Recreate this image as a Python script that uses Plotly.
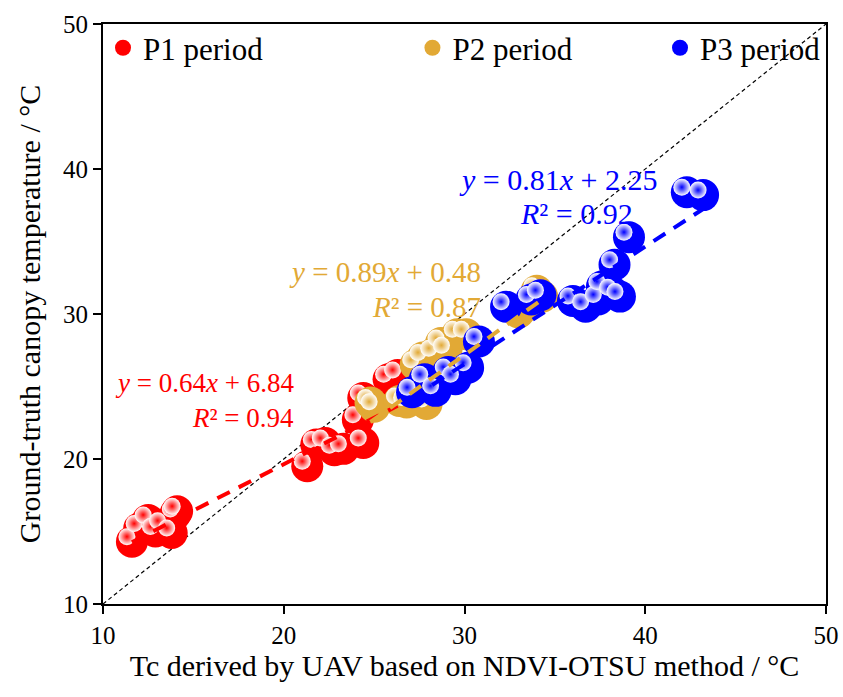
import plotly.graph_objects as go

# ---------------- data ----------------
p1_x = [11.6, 12.0, 12.5, 12.9, 13.3, 13.8, 14.0, 14.1,
        21.3, 21.8, 22.3, 22.8, 23.3, 24.4, 24.1, 24.4, 25.8, 26.3]
p1_y = [14.3, 15.2, 15.8, 15.0, 15.4, 14.9, 16.2, 16.4,
        19.5, 21.0, 21.1, 20.6, 20.7, 21.1, 22.7, 24.2, 25.5, 25.8]

p2_x = [24.8, 25.0, 26.4, 26.8, 27.3, 27.9, 28.1, 27.3, 27.7, 28.3,
        28.7, 29.0, 29.6, 30.1, 33.0, 33.5, 34.0, 34.3]
p2_y = [23.9, 23.6, 24.0, 23.9, 24.4, 23.8, 24.6, 26.5, 27.0, 27.3,
        28.0, 27.5, 28.6, 28.6, 30.1, 30.6, 31.6, 31.2]

p3_x = [27.1, 27.8, 28.4, 29.1, 29.5, 30.2, 30.8, 32.3, 33.7, 34.2,
        36.0, 36.7, 37.4, 37.6, 38.2, 38.6, 38.3, 39.1, 42.3, 43.2]
p3_y = [24.6, 25.5, 24.7, 26.0, 25.5, 26.3, 28.1, 30.5, 31.0, 31.3,
        30.9, 30.5, 31.0, 31.9, 31.5, 31.2, 33.4, 35.3, 38.4, 38.2]

fits = {  # slope, intercept, R2
    "P1": (0.64, 6.84, 0.94),
    "P2": (0.89, 0.48, 0.87),
    "P3": (0.81, 2.25, 0.92),
}
names = ["P1 period", "P2 period", "P3 period"]
colors = ["#FF0000", "#E2A935", "#0000FF"]

axis_range = [10, 50]
tick_vals = [10, 20, 30, 40, 50]

FONT = "Liberation Serif"

fig = go.Figure()

# 1:1 line
fig.add_trace(go.Scatter(x=axis_range, y=axis_range, mode="lines",
                         line=dict(color="black", width=1.2, dash="4px,3px"),
                         showlegend=False, hoverinfo="skip"))

# pixel-based offset for sphere highlight (converted to data units)
px_per_x = 723 / 40.0
px_per_y = 580 / 40.0
hx = -5 / px_per_x
hy = 5 / px_per_y

legend_ids = ["legend", "legend2", "legend3"]
groups = [(p1_x, p1_y, "P1"), (p2_x, p2_y, "P2"), (p3_x, p3_y, "P3")]
for (xs, ys, key), name, col, lg in zip(groups, names, colors, legend_ids):
    fig.add_trace(go.Scatter(x=xs, y=ys, mode="markers", name=name, legend=lg,
                             marker=dict(size=32, color=col, line=dict(width=0)),
                             hoverinfo="skip"))
    fig.add_trace(go.Scatter(x=[v + hx for v in xs], y=[v + hy for v in ys],
                             mode="markers", showlegend=False,
                             marker=dict(size=17, color="white",
                                         gradient=dict(type="radial", color=col),
                                         line=dict(width=0)),
                             hoverinfo="skip"))

# fit lines
for (xs, ys, key), col in zip(groups, colors):
    a, b, r2 = fits[key]
    xl = [min(xs), max(xs)]
    fig.add_trace(go.Scatter(x=xl, y=[a * v + b for v in xl], mode="lines",
                             line=dict(color=col, width=4, dash="14px,10px"),
                             showlegend=False, hoverinfo="skip"))

# equation annotations: (x1, y1, x2, y2, font size)
ann_pos = {
    "P1": (20.7, 25.25, 20.7, 22.85, 27),
    "P2": (31.05, 32.9, 31.05, 30.45, 29),
    "P3": (40.8, 39.25, 39.45, 36.95, 30),
}
for key, col in zip(["P1", "P2", "P3"], colors):
    a, b, r2 = fits[key]
    x1, y1, x2, y2, fs = ann_pos[key]
    fig.add_annotation(x=x1, y=y1, xref="x", yref="y", showarrow=False,
                       xanchor="right", yanchor="middle",
                       text=f"<i>y</i> = {a:.2f}<i>x</i> + {b:.2f}",
                       font=dict(family=FONT, size=fs, color=col))
    fig.add_annotation(x=x2, y=y2, xref="x", yref="y", showarrow=False,
                       xanchor="right", yanchor="middle",
                       text=f"<i>R</i>² = {r2:.2f}",
                       font=dict(family=FONT, size=fs, color=col))

axis_common = dict(range=axis_range, tickvals=tick_vals, showgrid=False,
                   zeroline=False, showline=True, linecolor="black", linewidth=2,
                   mirror=True, ticks="outside", ticklen=8, tickwidth=2,
                   tickcolor="black", tickfont=dict(family=FONT, size=25, color="black"))

fig.update_xaxes(**axis_common,
                 title=dict(text="Tc derived by UAV based on NDVI-OTSU method / °C",
                            font=dict(family=FONT, size=30, color="black"), standoff=0))
fig.update_yaxes(**axis_common,
                 title=dict(text="Ground-truth canopy temperature / °C",
                            font=dict(family=FONT, size=30, color="black"), standoff=14))

legend_style = dict(orientation="h", yanchor="top", y=1.005,
                    font=dict(family=FONT, size=31, color="black"),
                    bgcolor="rgba(0,0,0,0)", itemsizing="trace")

fig.update_layout(
    width=843, height=697,
    margin=dict(l=103, r=17, t=24, b=93, autoexpand=False),
    paper_bgcolor="white", plot_bgcolor="white",
    font=dict(family=FONT, color="black"),
    legend=dict(x=0.0, xanchor="left", **legend_style),
    legend2=dict(x=0.428, xanchor="left", **legend_style),
    legend3=dict(x=1.0, xanchor="right", **legend_style),
)

fig.write_html("out.html")
